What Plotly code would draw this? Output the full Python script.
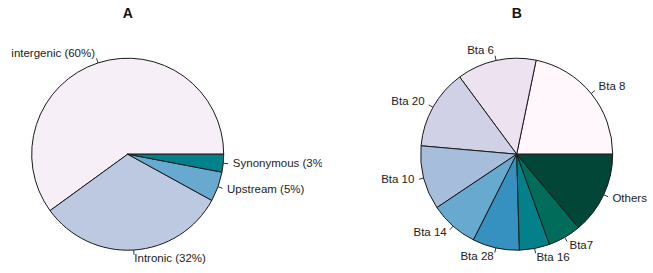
import math
import plotly.graph_objects as go

# ---- data ----
a_labels = ["intergenic (60%)", "Intronic (32%)", "Upstream (5%)", "Synonymous (3%)"]
a_values = [60, 32, 5, 3]
a_colors = ["#f6eff7", "#bdc9e1", "#67a9cf", "#02818a"]

b_labels = ["Bta 8", "Bta 6", "Bta 20", "Bta 10", "Bta 14", "Bta 28", "Bta 16", "Bta7", "Others"]
b_values = [21.8, 13.4, 13.5, 10.8, 8.2, 7.9, 5.1, 5.6, 13.9]
b_colors = ["#fff7fb", "#ece2f0", "#d0d1e6", "#a6bddb", "#67a9cf",
            "#3690c0", "#02818a", "#016c59", "#014636"]

W, H = 653, 273
R = 96.0
CLIP_A = 322.0  # right edge of panel A's drawing region (labels are clipped there)
panels = [
    dict(title="A", labels=a_labels, values=a_values, colors=a_colors, cx=127.7, cy=154.2,
         xa="x", ya="y", xrange=[0, CLIP_A], xdom=[0, CLIP_A / W]),
    dict(title="B", labels=b_labels, values=b_values, colors=b_colors, cx=516.7, cy=154.2,
         xa="x2", ya="y2", xrange=[W / 2, W], xdom=[0.5, 1]),
]

FONT = "Liberation Sans, Arial, Helvetica, sans-serif"
fig = go.Figure()

for p in panels:
    cx, cy = p["cx"], p["cy"]
    total = sum(p["values"])
    # first slice starts at 3 o'clock and slices run counterclockwise (R pie default)
    rot = 90 - 360.0 * p["values"][0] / total
    fig.add_trace(go.Pie(
        values=p["values"], labels=p["labels"], sort=False, direction="counterclockwise",
        rotation=rot, textinfo="none", hoverinfo="label",
        marker=dict(colors=p["colors"], line=dict(color="#1a1a1a", width=1)),
        domain=dict(x=[(cx - R) / W, (cx + R) / W], y=[(H - cy - R) / H, (H - cy + R) / H]),
        showlegend=False,
    ))
    cum = 0.0
    tx, ty, tt, tp = [], [], [], []
    lx, ly = [], []
    for lab, v in zip(p["labels"], p["values"]):
        mid = 2 * math.pi * (cum + v / 2) / total
        cum += v
        c, s = math.cos(mid), math.sin(mid)
        lx += [cx + R * c, cx + 1.05 * R * c, None]
        ly += [cy - R * s, cy - 1.05 * R * s, None]
        tx.append(cx + 1.1 * R * c)
        ty.append(cy - 1.1 * R * s)
        tt.append(lab)
        tp.append("middle right" if c > 0 else "middle left")
    fig.add_trace(go.Scatter(x=lx, y=ly, mode="lines", line=dict(color="#333", width=1),
                             xaxis=p["xa"], yaxis=p["ya"], showlegend=False, hoverinfo="skip"))
    fig.add_trace(go.Scatter(x=tx, y=ty, mode="text", text=tt, textposition=tp,
                             textfont=dict(family=FONT, size=11.5, color="#222"),
                             cliponaxis=True, xaxis=p["xa"], yaxis=p["ya"],
                             showlegend=False, hoverinfo="skip"))
    fig.add_trace(go.Scatter(x=[cx], y=[14], mode="text", text=["<b>" + p["title"] + "</b>"],
                             textposition="middle center",
                             textfont=dict(family=FONT, size=14, color="#111"),
                             xaxis=p["xa"], yaxis=p["ya"], showlegend=False, hoverinfo="skip"))

ax = dict(visible=False, showgrid=False, zeroline=False, fixedrange=True)
fig.update_layout(
    width=W, height=H, margin=dict(l=0, r=0, t=0, b=0),
    paper_bgcolor="white", plot_bgcolor="rgba(0,0,0,0)",
    xaxis=dict(domain=panels[0]["xdom"], range=panels[0]["xrange"], **ax),
    yaxis=dict(domain=[0, 1], range=[H, 0], **ax),
    xaxis2=dict(domain=panels[1]["xdom"], range=panels[1]["xrange"], **ax),
    yaxis2=dict(domain=[0, 1], range=[H, 0], anchor="x2", **ax),
)
fig.write_html("out.html", post_script="document.body.style.margin='0px';",
               config={"displayModeBar": False})
